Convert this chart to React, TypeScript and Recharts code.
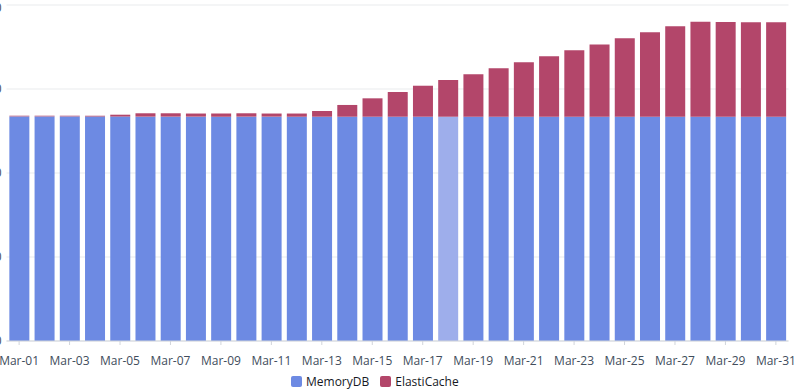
import React from 'react';
import { BarChart, Bar, XAxis, YAxis, CartesianGrid, Legend, Cell } from 'recharts';

const days = [
  'Mar-01', 'Mar-02', 'Mar-03', 'Mar-04', 'Mar-05', 'Mar-06', 'Mar-07', 'Mar-08',
  'Mar-09', 'Mar-10', 'Mar-11', 'Mar-12', 'Mar-13', 'Mar-14', 'Mar-15', 'Mar-16',
  'Mar-17', 'Mar-18', 'Mar-19', 'Mar-20', 'Mar-21', 'Mar-22', 'Mar-23', 'Mar-24',
  'Mar-25', 'Mar-26', 'Mar-27', 'Mar-28', 'Mar-29', 'Mar-30', 'Mar-31',
];

const memoryDb = [
  267.4, 267.4, 267.4, 267.4, 267.2, 267.1, 267.1, 267.1,
  267.1, 267.1, 267.1, 267.0, 267.0, 267.0, 267.0, 267.0,
  267.0, 267.0, 267.0, 267.0, 267.0, 267.0, 267.0, 267.0,
  267.0, 267.0, 267.0, 267.0, 267.0, 267.0, 267.0,
];

const elastiCache = [
  0.8, 0.8, 0.8, 0.9, 2.2, 4.0, 4.0, 3.7,
  3.7, 4.0, 3.7, 3.8, 6.8, 14.0, 21.9, 29.4,
  36.9, 43.7, 50.6, 57.6, 64.8, 71.9, 79.1, 86.0,
  93.4, 100.5, 107.6, 113.1, 112.8, 112.4, 112.4,
];

const yTicks = [0, 100, 200, 300, 400];
const highlightedDay = 'Mar-18';

const BLUE = '#6d8ae3';
const BLUE_HOVER = '#9eaeeb';
const RED = '#b3466a';
const FONT = '"Open Sans", sans-serif';

const data = days.map((day, i) => ({ day, MemoryDB: memoryDb[i], ElastiCache: elastiCache[i] }));

function LegendBox() {
  const items = [
    { name: 'MemoryDB', color: BLUE },
    { name: 'ElastiCache', color: RED },
  ];
  return (
    <div style={{ display: 'flex', alignItems: 'center', gap: 11, fontFamily: FONT, fontSize: 12, color: '#16191f' }}>
      {items.map((it) => (
        <div key={it.name} style={{ display: 'flex', alignItems: 'center', gap: 4 }}>
          <div style={{ width: 11, height: 11, borderRadius: 2, background: it.color }} />
          <span>{it.name}</span>
        </div>
      ))}
    </div>
  );
}

export default function App() {
  return (
    <div style={{ position: 'absolute', left: -30, top: 0, width: 830, height: 389, overflow: 'hidden' }}>
      <BarChart
        width={830}
        height={389}
        data={data}
        margin={{ top: 5, right: 11.5, bottom: 18, left: 0 }}
        barCategoryGap="11.3%"
        style={{ fontFamily: FONT }}
      >
        <CartesianGrid vertical={false} stroke="#e9ebed" />
        <YAxis
          width={36.5}
          domain={[0, 400]}
          ticks={yTicks}
          axisLine={false}
          tickLine={false}
          tickSize={0}
          tickMargin={5}
          tick={{ fontSize: 12, fill: '#414d5c' }}
        />
        <XAxis
          dataKey="day"
          height={30}
          interval={1}
          stroke="#d1d5db"
          tickSize={4}
          tickMargin={11.5}
          tick={{ fontSize: 12, fill: '#414d5c' }}
        />
        <Legend
          layout="horizontal"
          verticalAlign="middle"
          align="center"
          content={() => <LegendBox />}
          wrapperStyle={{ position: 'absolute', left: 321, top: 373, width: 220, height: 16 }}
        />
        <Bar dataKey="MemoryDB" stackId="a" fill={BLUE} isAnimationActive={false}>
          {data.map((d) => (
            <Cell key={d.day} fill={d.day === highlightedDay ? BLUE_HOVER : BLUE} />
          ))}
        </Bar>
        <Bar dataKey="ElastiCache" stackId="a" fill={RED} isAnimationActive={false} />
      </BarChart>
    </div>
  );
}
